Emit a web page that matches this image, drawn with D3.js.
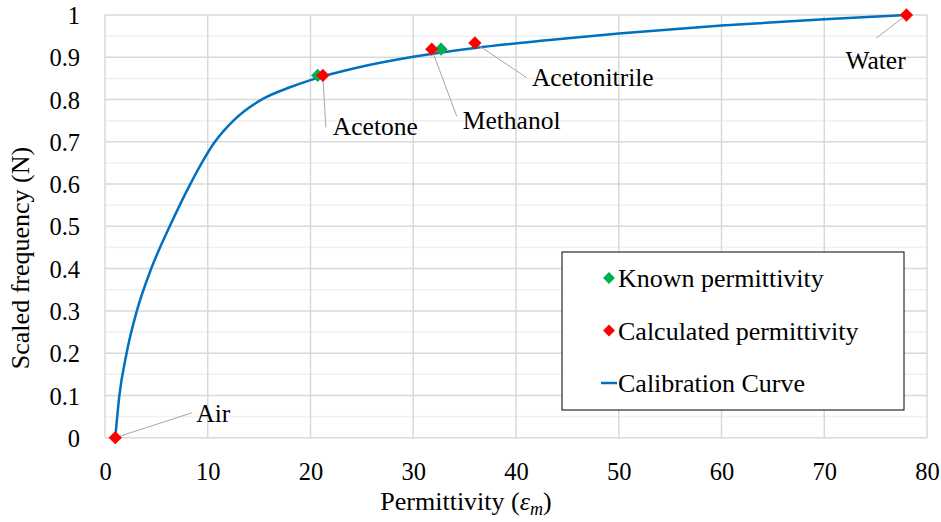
<!DOCTYPE html>
<html lang="en">
  <head>
    <meta charset="utf-8">
    <title>Calibration curve</title>
    <script type="text/javascript" src="https://d3js.org/d3.v7.min.js"></script>
    <style type="text/css">
    body { margin: 0; background: #fff; }
    </style>
  </head>
  <body>
    <svg width="941" height="522" id="chart"></svg>
    <script type="text/javascript">

    // calibration curve
    const curveX = [1, 1.4, 2.1, 3.1, 4.5, 6.3, 8.3, 10.7, 12.5, 15.4, 18, 20, 24.5, 30, 36, 43, 50, 60, 70, 78];
    const curveY = [0, 0.1, 0.2, 0.3, 0.4, 0.5, 0.6, 0.7, 0.75, 0.802, 0.829, 0.846, 0.875, 0.901, 0.922, 0.940, 0.956, 0.975, 0.99, 1.0];

    // known permittivity (green)
    const knownX = [20.7, 32.7];
    const knownY = [0.857, 0.919];

    // calculated permittivity (red)
    const calcNames = ["Air", "Acetone", "Methanol", "Acetonitrile", "Water"];
    const calcX = [1, 21.2, 31.8, 36, 78];
    const calcY = [0, 0.857, 0.919, 0.934, 1.0];

    const xTicks = [0, 10, 20, 30, 40, 50, 60, 70, 80];
    const yTicks = [0, 0.1, 0.2, 0.3, 0.4, 0.5, 0.6, 0.7, 0.8, 0.9, 1];
    const yMinor = [0.05, 0.15, 0.25, 0.35, 0.45, 0.55, 0.65, 0.75, 0.85, 0.95];

    // leader line end / text start, pixel offsets from the marker
    const labelPos = {
      "Air":          {lx: 77,  ly: -25, tx: 81,  ty: -16},
      "Acetone":      {lx: 3,   ly: 52,  tx: 10,  ty: 60},
      "Methanol":     {lx: 25,  ly: 67,  tx: 31,  ty: 80},
      "Acetonitrile": {lx: 52,  ly: 35,  tx: 57,  ty: 43},
      "Water":        {lx: -30, ly: 23,  tx: -61, ty: 54}
    };

    const FONT = "'Liberation Serif'";
    const plotL = 105, plotR = 927, plotT = 15, plotB = 437.7;

    const xScale = d3.scaleLinear().domain([0, 80]).range([plotL, plotR]);
    const yScale = d3.scaleLinear().domain([0, 1]).range([plotB, plotT]);

    const svg = d3.select("#chart");

    // minor horizontal grid
    svg.append("g")
        .selectAll("line")
        .data(yMinor)
        .enter()
        .append("line")
        .attr("x1", plotL).attr("x2", plotR)
        .attr("y1", d => yScale(d)).attr("y2", d => yScale(d))
        .attr("stroke", "#f0f0f0")
        .attr("stroke-width", 1.5);

    // major grid
    svg.append("g")
        .selectAll("line")
        .data(yTicks)
        .enter()
        .append("line")
        .attr("x1", plotL).attr("x2", plotR)
        .attr("y1", d => yScale(d)).attr("y2", d => yScale(d))
        .attr("stroke", "#d9d9d9")
        .attr("stroke-width", 1.5);

    svg.append("g")
        .selectAll("line")
        .data(xTicks)
        .enter()
        .append("line")
        .attr("x1", d => xScale(d)).attr("x2", d => xScale(d))
        .attr("y1", plotT).attr("y2", plotB)
        .attr("stroke", "#d9d9d9")
        .attr("stroke-width", 1.5);

    // axes (labels only, lines are the grid)
    const bottomAxis = d3.axisBottom(xScale).tickValues(xTicks).tickSize(0).tickPadding(25);
    const leftAxis = d3.axisLeft(yScale).tickValues(yTicks).tickSize(0).tickPadding(25)
        .tickFormat(d => String(+d.toFixed(1)));

    svg.append("g")
        .attr("transform", "translate(0," + plotB + ")")
        .call(bottomAxis)
        .call(g => g.select(".domain").remove())
        .attr("font-family", null)
        .attr("font-size", null)
        .selectAll("text")
        .style("font-size", "24.5px");

    svg.append("g")
        .attr("transform", "translate(" + plotL + ",0)")
        .call(leftAxis)
        .call(g => g.select(".domain").remove())
        .attr("font-family", null)
        .attr("font-size", null)
        .selectAll("text")
        .style("font-size", "24.5px")
        .attr("dy", "0.35em");

    // calibration curve
    const curveData = curveX.map((x, i) => [x, curveY[i]]);
    svg.append("path")
        .datum(curveData)
        .attr("fill", "none")
        .attr("stroke", "#0070C0")
        .attr("stroke-width", 2.5)
        .attr("d", d3.line().x(d => xScale(d[0])).y(d => yScale(d[1])).curve(d3.curveMonotoneX));

    // leader lines and labels
    const calcData = calcNames.map((n, i) => ({name: n, x: calcX[i], y: calcY[i]}));

    svg.append("g")
        .selectAll("line")
        .data(calcData)
        .enter()
        .append("line")
        .attr("x1", d => xScale(d.x)).attr("y1", d => yScale(d.y))
        .attr("x2", d => xScale(d.x) + labelPos[d.name].lx)
        .attr("y2", d => yScale(d.y) + labelPos[d.name].ly)
        .attr("stroke", "#a6a6a6")
        .attr("stroke-width", 1);

    svg.append("g")
        .selectAll("text")
        .data(calcData)
        .enter()
        .append("text")
        .style("font-size", "25.5px")
        .attr("x", d => xScale(d.x) + labelPos[d.name].tx)
        .attr("y", d => yScale(d.y) + labelPos[d.name].ty)
        .text(d => d.name);

    // markers
    const diamond = d3.symbol().type(d3.symbolSquare).size(88);

    svg.append("g")
        .selectAll("path")
        .data(knownX.map((x, i) => [x, knownY[i]]))
        .enter()
        .append("path")
        .attr("d", diamond)
        .attr("transform", d => "translate(" + xScale(d[0]) + "," + yScale(d[1]) + ") rotate(45)")
        .attr("fill", "#00B050");

    svg.append("g")
        .selectAll("path")
        .data(calcData)
        .enter()
        .append("path")
        .attr("d", diamond)
        .attr("transform", d => "translate(" + xScale(d.x) + "," + yScale(d.y) + ") rotate(45)")
        .attr("fill", "#FF0000");

    // axis titles
    svg.append("text")
        .style("font-size", "26px")
        .attr("text-anchor", "middle")
        .attr("transform", "translate(29,258) rotate(-90)")
        .text("Scaled frequency (N)");

    const xt = svg.append("text")
        .style("font-size", "26px")
        .attr("text-anchor", "middle")
        .attr("x", 466)
        .attr("y", 510);
    xt.append("tspan").text("Permittivity (");
    xt.append("tspan").style("font-style", "italic").text("ε");
    xt.append("tspan").style("font-style", "italic").style("font-size", "18px").attr("dy", 5).text("m");
    xt.append("tspan").attr("dy", -5).text(")");

    // legend
    const legend = svg.append("g");
    legend.append("rect")
        .attr("x", 562).attr("y", 252)
        .attr("width", 342).attr("height", 158)
        .attr("fill", "#fff")
        .attr("stroke", "#000")
        .attr("stroke-width", 1);

    const legendItems = ["Known permittivity", "Calculated permittivity", "Calibration Curve"];
    const legendColors = ["#00B050", "#FF0000", "#0070C0"];
    const legendY = d3.scalePoint().domain(legendItems).range([278, 383]);

    legendItems.forEach((name, i) => {
      const y = legendY(name);
      if (i < 2) {
        legend.append("path")
            .attr("d", d3.symbol().type(d3.symbolSquare).size(70))
            .attr("transform", "translate(609," + y + ") rotate(45)")
            .attr("fill", legendColors[i]);
      } else {
        legend.append("line")
            .attr("x1", 601).attr("x2", 617)
            .attr("y1", y).attr("y2", y)
            .attr("stroke", legendColors[i])
            .attr("stroke-width", 2.5);
      }
      legend.append("text")
          .style("font-size", "26px")
          .attr("x", 618)
          .attr("y", y)
          .attr("dy", "0.35em")
          .text(name);
    });

    svg.selectAll("text")
        .style("font-family", FONT)
        .attr("fill", "#000");

    </script>
  </body>
</html>
